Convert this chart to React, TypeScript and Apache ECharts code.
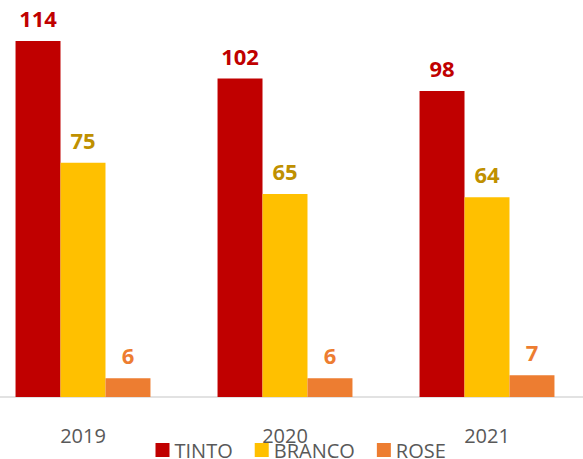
import React, { useEffect, useRef } from "react";
import * as echarts from "echarts";

const categories = ["2019", "2020", "2021"];
const tinto = [114, 102, 98];
const branco = [75, 65, 64];
const rose = [6, 6, 7];

const seriesNames = ["TINTO", "BRANCO", "ROSE"];
const barColors = ["#C00000", "#FFC000", "#ED7D31"];
const labelColors = ["#C00000", "#BF9000", "#ED7D31"];

export default function App() {
  const ref = useRef<HTMLDivElement>(null);
  useEffect(() => {
    document.body.style.margin = "0";
    document.body.style.overflow = "hidden";
    const chart = echarts.init(ref.current!, null, { renderer: "svg" });
    const data = [tinto, branco, rose];
    chart.setOption({
      animation: false,
      backgroundColor: "#FFFFFF",
      grid: { left: 0, right: 0, top: 22.3, bottom: 62 },
      legend: {
        data: seriesNames,
        left: 168.5,
        top: 435,
        padding: 5,
        icon: "rect",
        itemWidth: 14,
        itemHeight: 14,
        itemGap: 22,
        textStyle: { fontFamily: "Open Sans", fontSize: 20, lineHeight: 18, color: "#595959" },
      },
      xAxis: {
        type: "category",
        data: categories,
        axisLine: { show: true, lineStyle: { color: "#D9D9D9", width: 1.5 } },
        axisTick: { show: false },
        axisLabel: { fontFamily: "Open Sans", fontSize: 20, lineHeight: 18, color: "#595959", margin: 29 },
      },
      yAxis: {
        type: "value",
        min: 0,
        max: 120,
        show: false,
        splitLine: { show: false },
      },
      series: seriesNames.map((name, i) => ({
        name,
        type: "bar",
        data: data[i],
        barGap: "0%",
        barCategoryGap: "33.2%",
        itemStyle: { color: barColors[i] },
        label: {
          show: true,
          position: "top",
          distance: 12,
          color: labelColors[i],
          fontFamily: "Open Sans",
          fontWeight: "bold",
          fontSize: 22,
        },
      })),
    });
    return () => chart.dispose();
  }, []);
  return (
    <div style={{ width: 583, height: 459, overflow: "hidden", position: "relative" }}>
      <div ref={ref} style={{ width: 606, height: 459, position: "absolute", left: -18.5, top: 0 }} />
    </div>
  );
}
